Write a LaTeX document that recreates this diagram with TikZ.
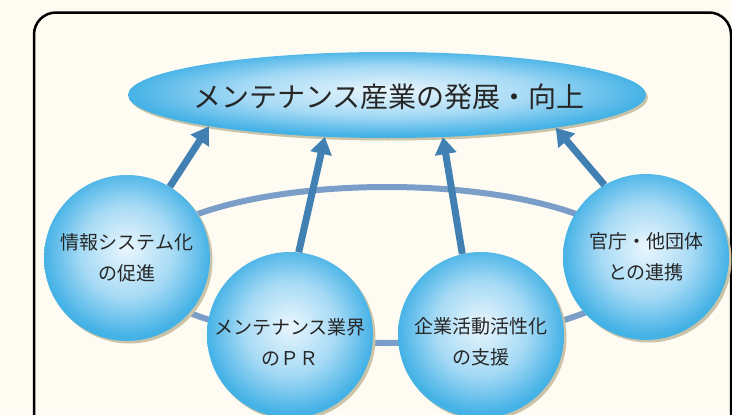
\documentclass[tikz,border=0pt]{standalone}
\usepackage{fontspec}
\newfontfamily\jpfont{Noto Sans CJK JP}
\usepackage{tikz}
\usetikzlibrary{shapes.geometric,shadows,arrows.meta}

\definecolor{bgCream}{HTML}{FDFBF2}
\definecolor{ringBlue}{HTML}{7B9EC8}
\definecolor{arrowBlue}{HTML}{4180B2}
\definecolor{bubbleIn}{HTML}{EAF6FD}
\definecolor{bubbleMid}{HTML}{A6DAF5}
\definecolor{bubbleOut}{HTML}{45B2E6}
\definecolor{shadowTan}{HTML}{CBC3A8}

\pgfdeclareradialshading{bubbleShade}{\pgfpoint{0bp}{3bp}}{color(0bp)=(bubbleIn); color(14bp)=(bubbleMid); color(25bp)=(bubbleOut); color(50bp)=(bubbleOut)}

\tikzset{
  bubble/.style={circle, minimum size=166pt, inner sep=0pt, shading=bubbleShade,
    drop shadow={shadow xshift=2.5pt, shadow yshift=-2.5pt, fill=shadowTan, opacity=1}},
  goalShape/.style={ellipse, minimum width=518pt, minimum height=86pt, inner sep=0pt, shading=bubbleShade,
    drop shadow={shadow xshift=2pt, shadow yshift=-2.5pt, fill=shadowTan, opacity=1}},
  bubbleText/.style={font=\jpfont\fontsize{19}{31}\selectfont, align=center, text=black!85},
  goalText/.style={font=\jpfont\fontsize{28}{34}\selectfont, text=black!85},
  growArrow/.style={arrowBlue, line width=7pt, -{Triangle[length=17pt,width=21pt]}}
}

\newcommand{\placeBubble}[4]{
    % circle, then its text
    \node[bubble] (#1) at (#2) {};
    \node[bubbleText, yshift=#4] (#1-txt) at (#1) {#3};
}

\begin{document}
\begin{tikzpicture}[x=1pt,y=-1pt]
  % Background and frame
  \fill[bgCream] (0,0) rectangle (732,415);
  \useasboundingbox (0,0) rectangle (732,415);
  \draw[line width=2.5pt, rounded corners=22pt] (34,12.5) rectangle (731,440);

  % Ring joining the circles
  \draw[ringBlue, line width=6pt] (387,265) ellipse [x radius=250, y radius=78];

  % Goal ellipse
  \node[goalShape] (goal) at (387,95) {};
  \node[goalText] (goal-txt) at (389,97) {メンテナンス産業の発展・向上};

  % The four circles
  \placeBubble{info}{127,258}{情報システム化\\の促進}{0pt}
  \placeBubble{pr}{290,335}{メンテナンス業界\\のＰＲ}{-7pt}
  \placeBubble{biz}{481,335}{企業活動活性化\\の支援}{-7pt}
  \placeBubble{gov}{646,257}{官庁・他団体\\との連携}{0pt}

  % Arrows up to the goal
  \draw[growArrow] (info.59) -- (goal.190);
  \draw[growArrow] (pr.84) -- (goal.214);
  \draw[growArrow] (biz.103) -- (goal.323);
  \draw[growArrow] (gov.120) -- (goal.349);
\end{tikzpicture}
\end{document}
